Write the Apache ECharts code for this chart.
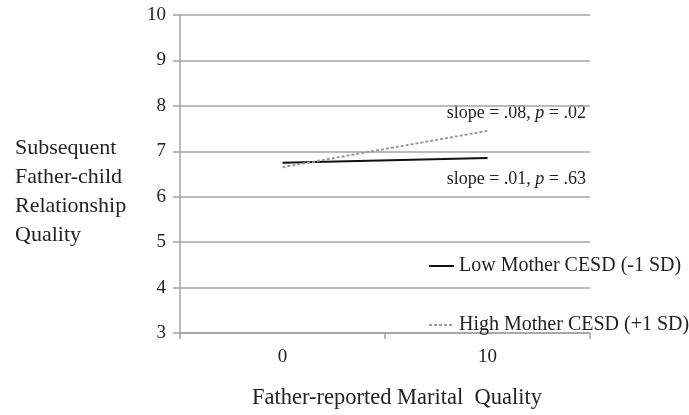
<!DOCTYPE html>
<html>
<head>
<meta charset="utf-8">
<script src="https://cdn.jsdelivr.net/npm/echarts@6/dist/echarts.min.js"></script>
<style>
  html, body { margin: 0; padding: 0; background: #fff; }
  #chart { width: 689px; height: 415px; }
</style>
</head>
<body>
<div id="chart"></div>
<script>
var categories = ['0', '10'];
var lowMother = [6.75, 6.85];
var highMother = [6.65, 7.45];
var yTicks = { min: 3, max: 10, interval: 1 };

var serif = 'Liberation Serif';
var ink = '#222';
var gridGray = '#a3a3a3';

var chart = echarts.init(document.getElementById('chart'));

var option = {
  animation: false,
  grid: { left: 180, right: 99, top: 15, bottom: 82, containLabel: false },
  xAxis: {
    type: 'category',
    data: categories,
    boundaryGap: true,
    name: 'Father-reported Marital  Quality',
    nameLocation: 'middle',
    nameGap: 54,
    nameTextStyle: { fontFamily: serif, fontSize: 22.5, color: ink, padding: [0, 0, 0, 24] },
    axisLine: { lineStyle: { color: gridGray, width: 1.5 } },
    axisTick: { show: true, length: 6, lineStyle: { color: gridGray, width: 1.5 } },
    axisLabel: { fontFamily: serif, fontSize: 19, color: ink, margin: 15 },
    splitLine: { show: false }
  },
  yAxis: {
    type: 'value',
    min: yTicks.min,
    max: yTicks.max,
    interval: yTicks.interval,
    axisLine: { show: true, lineStyle: { color: gridGray, width: 1.5 } },
    axisTick: { show: true, length: 7, lineStyle: { color: gridGray, width: 1.5 } },
    axisLabel: { fontFamily: serif, fontSize: 19, color: ink, margin: 14 },
    splitLine: { show: true, lineStyle: { color: gridGray, width: 1.5 } }
  },
  legend: {
    orient: 'vertical',
    left: 428,
    top: 256,
    padding: 0,
    itemWidth: 25,
    itemHeight: 14,
    itemGap: 39,
    itemStyle: { opacity: 0 },
    textStyle: { fontFamily: serif, fontSize: 20, color: ink },
    data: ['Low Mother CESD (-1 SD)', 'High Mother CESD (+1 SD)']
  },
  series: [
    {
      name: 'Low Mother CESD (-1 SD)',
      type: 'line',
      data: lowMother,
      symbol: 'none',
      itemStyle: { color: '#111' },
      lineStyle: { color: '#111', width: 2 }
    },
    {
      name: 'High Mother CESD (+1 SD)',
      type: 'line',
      data: highMother,
      symbol: 'none',
      itemStyle: { color: '#999' },
      lineStyle: { color: '#999', width: 2, type: [3, 2] }
    }
  ],
  graphic: [
    {
      type: 'text',
      left: 15,
      top: 134,
      style: {
        text: 'Subsequent\nFather-child\nRelationship\nQuality',
        fontFamily: serif,
        fontSize: 22,
        lineHeight: 29,
        fill: ink
      }
    },
    {
      type: 'text',
      right: 103,
      top: 104,
      style: {
        text: 'slope = .08, {i|p} = .02',
        fontFamily: serif,
        fontSize: 18,
        fill: ink,
        rich: { i: { fontFamily: serif, fontSize: 18, fontStyle: 'italic', fill: ink } }
      }
    },
    {
      type: 'text',
      right: 103,
      top: 170,
      style: {
        text: 'slope = .01, {i|p} = .63',
        fontFamily: serif,
        fontSize: 18,
        fill: ink,
        rich: { i: { fontFamily: serif, fontSize: 18, fontStyle: 'italic', fill: ink } }
      }
    }
  ]
};

chart.setOption(option);
</script>
</body>
</html>
